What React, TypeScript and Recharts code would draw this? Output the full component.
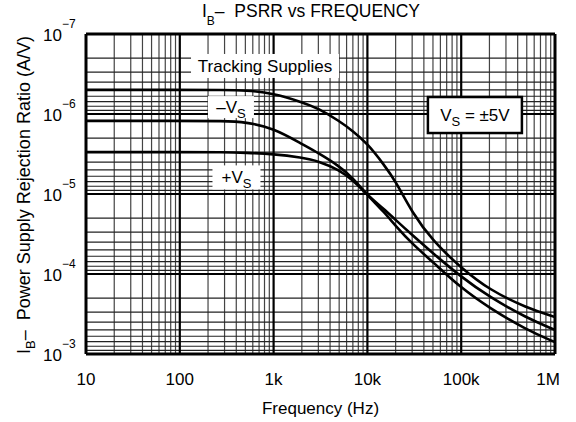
import React from 'react';
import {
    LineChart, Line, XAxis, YAxis, ReferenceLine, ReferenceDot
} from 'recharts';

const FONT = '"Liberation Sans", Arial, Helvetica, sans-serif';

// frequency points (Hz) shared by all three curves
const freqs = [10, 100, 300, 500, 1000, 2000, 3000, 5000, 7000, 10000, 15000, 20000, 30000, 50000, 100000, 200000, 500000, 1000000];
// PSRR values (A/V)
const tracking = [5.0e-7, 5.0e-7, 5.0e-7, 5.05e-7, 5.5e-7, 7.1e-7, 8.5e-7, 1.22e-6, 1.63e-6, 2.34e-6, 4.3e-6, 6.9e-6, 1.72e-5, 3.9e-5, 8.4e-5, 1.58e-4, 2.66e-4, 3.45e-4];
const minusVs = [1.22e-6, 1.22e-6, 1.22e-6, 1.26e-6, 1.5e-6, 2.37e-6, 3.07e-6, 4.47e-6, 6.3e-6, 1.03e-5, 1.68e-5, 2.5e-5, 4.2e-5, 7.1e-5, 1.5e-4, 2.66e-4, 5.0e-4, 7.1e-4];
const plusVs = [3.0e-6, 3.0e-6, 3.0e-6, 3.05e-6, 3.16e-6, 3.5e-6, 3.87e-6, 5.0e-6, 6.7e-6, 1.03e-5, 1.54e-5, 2.11e-5, 3.25e-5, 5.5e-5, 1.09e-4, 1.94e-4, 3.55e-4, 5.0e-4];

const xTicks = [10, 100, 1000, 10000, 100000, 1000000];
const xTickLabels = ['10', '100', '1k', '10k', '100k', '1M'];
const yTicks = [1e-7, 1e-6, 1e-5, 1e-4, 1e-3];

const data = freqs.map((f, i) => ({f, tracking: tracking[i], minus: minusVs[i], plus: plusVs[i]}));

const minors = (decades: number[]) => {
    const out: number[] = [];
    decades.forEach(d => { for (let k = 2; k <= 9; k++) out.push(d * k); });
    return out;
};
const xMinor = minors([10, 100, 1000, 10000, 100000]);
const yMinor = minors([1e-7, 1e-6, 1e-5, 1e-4]);

const XTick = (props: any) => {
    const {x, y, payload} = props;
    const i = xTicks.indexOf(payload.value);
    return <text x={x} y={y + 31} textAnchor="middle" fontSize={17} fontFamily={FONT} fill="#000">{xTickLabels[i]}</text>;
};

const YTick = (props: any) => {
    const {x, y, payload} = props;
    const e = Math.round(Math.log10(payload.value));
    return (
        <text x={x - 43} y={y + 7} fontSize={17} fontFamily={FONT} fill="#000">
            10<tspan dy={-13} fontSize={12}>{'\u2212' + Math.abs(e)}</tspan>
        </text>
    );
};

const YLabel = (props: any) => {
    const {viewBox} = props;
    const cy = viewBox.y + viewBox.height / 2;
    return (
        <text transform={`translate(30, ${cy + 1}) rotate(-90)`} textAnchor="middle" fontSize={18} fontFamily={FONT} fill="#000" style={{whiteSpace: 'pre'}}>
            I<tspan dy={5} fontSize={13}>B</tspan><tspan dy={-5}>{'\u2013  Power Supply Rejection Ratio (A/V)'}</tspan>
        </text>
    );
};

const XLabel = (props: any) => {
    const {viewBox} = props;
    return <text x={viewBox.x + viewBox.width / 2} y={viewBox.y + 60} textAnchor="middle" fontSize={17} fontFamily={FONT} fill="#000">Frequency (Hz)</text>;
};

const Title = () => (
    <text x={311} y={17} textAnchor="middle" fontSize={17.5} fontFamily={FONT} fill="#000" style={{whiteSpace: 'pre'}}>
        I<tspan dy={8} fontSize={12}>B</tspan><tspan dy={-8}>{'\u2013  PSRR vs FREQUENCY'}</tspan>
    </text>
);

// white label box drawn at a data position
const noteShape = (w: number, h: number, children: React.ReactNode, border = false) => (p: any) => (
    <g>
        <rect x={p.cx - w / 2} y={p.cy - h / 2} width={w} height={h} fill="#fff" stroke={border ? '#000' : 'none'} strokeWidth={2.5} />
        <text x={p.cx} y={p.cy + 6} textAnchor="middle" fontSize={17} fontFamily={FONT} fill="#000">{children}</text>
    </g>
);

export default function App() {
    return (
        <div style={{position: 'absolute', left: 0, top: 0, background: '#fff'}}>
            <LineChart width={576} height={422} data={data} margin={{top: 34, right: 21, bottom: 0, left: 0}}>
                <XAxis dataKey="f" type="number" scale="log" domain={[10, 1000000]} allowDataOverflow ticks={xTicks}
                       tick={<XTick />} tickLine={false} axisLine={false} tickSize={0} tickMargin={0} height={68}
                       label={<XLabel />} />
                <YAxis type="number" scale="log" domain={[1e-7, 1e-3]} allowDataOverflow reversed ticks={yTicks}
                       tick={<YTick />} tickLine={false} axisLine={false} tickSize={0} tickMargin={0} width={86}
                       label={<YLabel />} />
                {xMinor.map(v => <ReferenceLine key={'xm' + v} x={v} stroke="#444" strokeWidth={1.2} />)}
                {yMinor.map(v => <ReferenceLine key={'ym' + v} y={v} stroke="#222" strokeWidth={1.2} />)}
                {xTicks.slice(1, -1).map(v => <ReferenceLine key={'xM' + v} x={v} stroke="#000" strokeWidth={2.2} />)}
                {yTicks.slice(1, -1).map(v => <ReferenceLine key={'yM' + v} y={v} stroke="#000" strokeWidth={2.2} />)}
                <ReferenceLine x={10} stroke="#000" strokeWidth={3} />
                <ReferenceLine x={1000000} stroke="#000" strokeWidth={3} />
                <ReferenceLine y={1e-7} stroke="#000" strokeWidth={3} />
                <ReferenceLine y={1e-3} stroke="#000" strokeWidth={3} />
                <Line dataKey="tracking" type="basis" stroke="#000" strokeWidth={2.6} dot={false} isAnimationActive={false} />
                <Line dataKey="minus" type="basis" stroke="#000" strokeWidth={2.6} dot={false} isAnimationActive={false} />
                <Line dataKey="plus" type="basis" stroke="#000" strokeWidth={2.6} dot={false} isAnimationActive={false} />
                <ReferenceDot x={810} y={2.51e-7} r={0} shape={noteShape(148, 24, 'Tracking Supplies')} />
                <ReferenceDot x={351} y={8.2e-7} r={0}
                              shape={noteShape(46, 22, <>{'\u2013V'}<tspan dy={5} fontSize={13}>S</tspan></>)} />
                <ReferenceDot x={402} y={6.2e-6} r={0}
                              shape={noteShape(48, 24, <>{'+V'}<tspan dy={5} fontSize={13}>S</tspan></>)} />
                <ReferenceDot x={140000} y={1.03e-6} r={0}
                              shape={noteShape(94, 36, <>{'V'}<tspan dy={5} fontSize={13}>S</tspan><tspan dy={-5}>{' = \u00b15V'}</tspan></>, true)} />
                <Title />
            </LineChart>
        </div>
    );
}
